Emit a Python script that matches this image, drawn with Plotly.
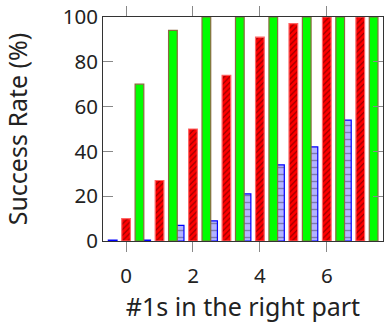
import plotly.graph_objects as go

x_vals = [0, 1, 2, 3, 4, 5, 6, 7]
blue_vals = [0.4, 0.4, 7, 9, 21, 34, 42, 54]
red_vals = [10, 27, 50, 74, 91, 97, 100, 100]
green_vals = [70, 94, 100, 100, 100, 100, 100, 100]
x_ticks = [0, 2, 4, 6]
y_ticks = [0, 20, 40, 60, 80, 100]

FONT = "Noto Sans"
FS = 20.5
W = 0.26
XR = [-0.69, 7.68]
TICKC = "#888888"

fig = go.Figure()
fig.add_trace(go.Bar(
    x=x_vals, y=blue_vals, width=W, offset=-0.4 - W / 2,
    marker=dict(color="#b3b3ff", line=dict(color="#0000ff", width=1.2),
                pattern=dict(shape="-", fgcolor="#444466", size=7, solidity=0.2)),
    showlegend=False))
fig.add_trace(go.Bar(
    x=x_vals, y=red_vals, width=W, offset=-W / 2,
    marker=dict(color="#ff0000", line=dict(color="#ff6666", width=1.2),
                pattern=dict(shape="/", fgcolor="#000000", size=4, solidity=0.25)),
    showlegend=False))
fig.add_trace(go.Bar(
    x=x_vals, y=green_vals, width=W, offset=0.4 - W / 2,
    marker=dict(color="#00ff00", line=dict(color="#8a6a40", width=1.2)),
    showlegend=False))
# empty helper trace so the top tick axis is drawn
fig.add_trace(go.Scatter(x=[], y=[], xaxis="x2", showlegend=False, hoverinfo="skip"))

fig.update_layout(
    width=384, height=323,
    margin=dict(l=103, r=1, t=17, b=82, autoexpand=False),
    barmode="overlay",
    plot_bgcolor="white", paper_bgcolor="white",
    font=dict(family=FONT, size=FS, color="#222222"),
    xaxis=dict(range=XR, tickvals=x_ticks, ticks="outside", ticklen=10,
               tickcolor=TICKC, tickwidth=1, mirror=True, showline=True,
               linecolor="#333333", linewidth=1, showgrid=False, zeroline=False,
               ticklabelstandoff=6, tickfont=dict(size=FS),
               title=dict(text="#1s in the right part", standoff=20)),
    xaxis2=dict(range=XR, tickvals=x_ticks, ticks="outside", ticklen=10,
                tickcolor=TICKC, tickwidth=1, overlaying="x", side="top",
                showticklabels=False, showline=False, showgrid=False, zeroline=False),
    yaxis=dict(range=[0, 100], tickvals=y_ticks, ticks="inside", ticklen=10,
               tickcolor=TICKC, tickwidth=1, mirror="ticks", showline=True,
               linecolor="#333333", linewidth=1, showgrid=False, zeroline=False,
               title=dict(text="Success Rate (%)", standoff=28),
               tickfont=dict(size=FS)),
)

fig.write_html("out.html", config={"displayModeBar": False},
               post_script="document.body.style.margin='0px';document.body.style.overflow='hidden';")
